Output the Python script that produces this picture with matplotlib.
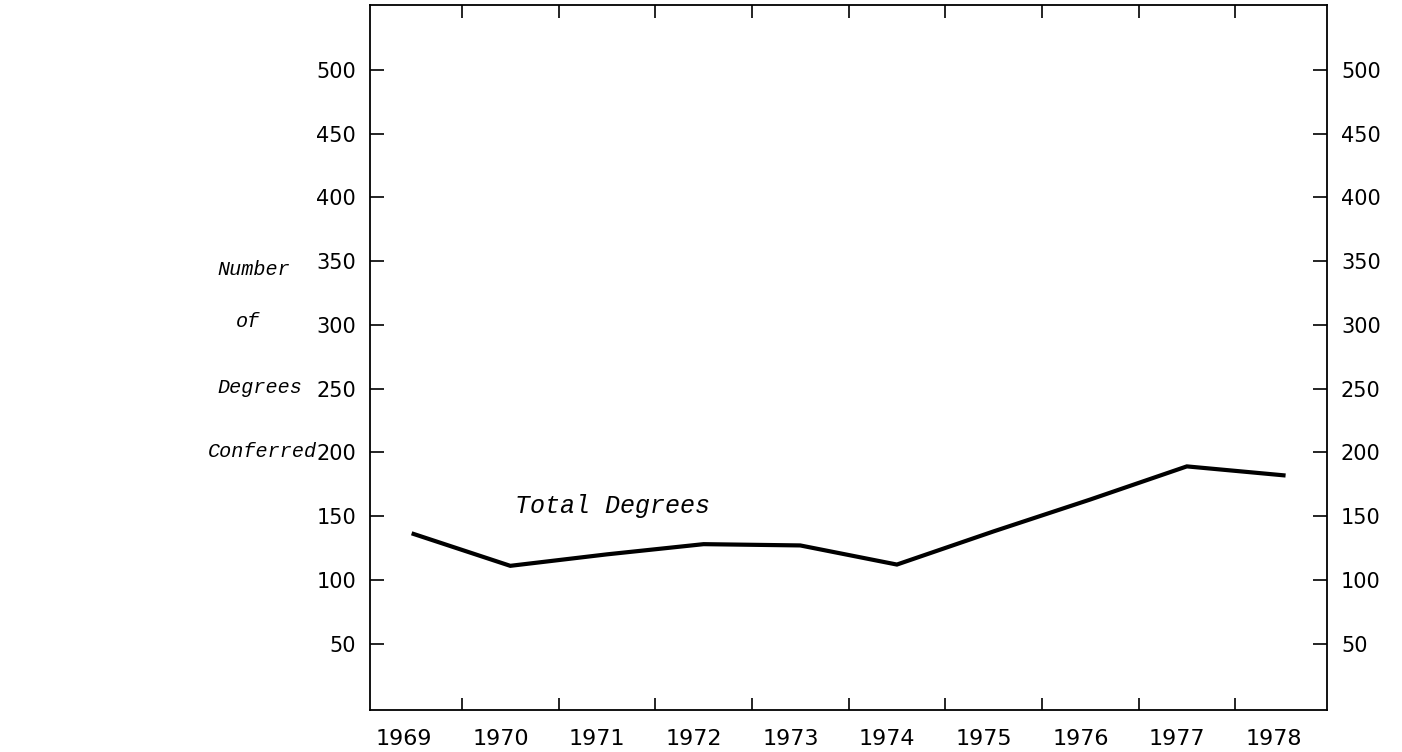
import matplotlib
matplotlib.use('Agg')
import matplotlib.pyplot as plt
import numpy as np

###########################################################################
# data
years = [1969, 1970, 1971, 1972, 1973, 1974, 1975, 1976, 1977, 1978]
totalDegrees = [136, 111, 120, 128, 127, 112, 138, 163, 189, 182]
yTicks = [50, 100, 150, 200, 250, 300, 350, 400, 450, 500]
yLabelLines = ['Number', 'of', 'Degrees', 'Conferred']

###########################################################################
# figure
fig = plt.figure(figsize=(14.02, 7.52), dpi=100)
ax = fig.add_axes([0.264, 0.056, 0.6825, 0.9375])

ax.plot(years, totalDegrees, color='black', lw=3, solid_joinstyle='miter')

ax.set_xlim(1968.55, 1978.45)
ax.set_ylim(-2, 551)

# year labels sit a bit left of the cell centres, tick marks on cell borders
ax.set_xticks(np.array(years) - 0.1)
ax.set_xticklabels([str(y) for y in years], fontsize=16, family='DejaVu Sans')
ax.set_xticks(np.array(years[:-1]) + 0.5, minor=True)
ax.tick_params(axis='x', which='major', length=0, pad=14)
ax.tick_params(axis='x', which='minor', direction='in', length=9, width=1.2,
               top=True, bottom=True)

ax.set_yticks(yTicks)
ax.set_yticklabels([str(v) for v in yTicks], fontsize=15)
ax.tick_params(axis='y', which='major', direction='in', length=10, width=1.2,
               left=True, right=True, labelleft=True, labelright=True, pad=10)

for sp in ax.spines.values():
    sp.set_linewidth(1.3)
    sp.set_color('black')

# y axis title, typed one word per line
yPos = [0.642, 0.573, 0.485, 0.400]
xPos = [0.155, 0.168, 0.155, 0.148]
for txt, xx, yy in zip(yLabelLines, xPos, yPos):
    fig.text(xx, yy, txt, ha='left', va='center', fontsize=14.5,
             family='Liberation Mono', style='italic')

ax.text(1970.05, 158, 'Total Degrees', ha='left', va='center', fontsize=18,
        family='Liberation Mono', style='italic')

fig.savefig('out.png', dpi=100)
